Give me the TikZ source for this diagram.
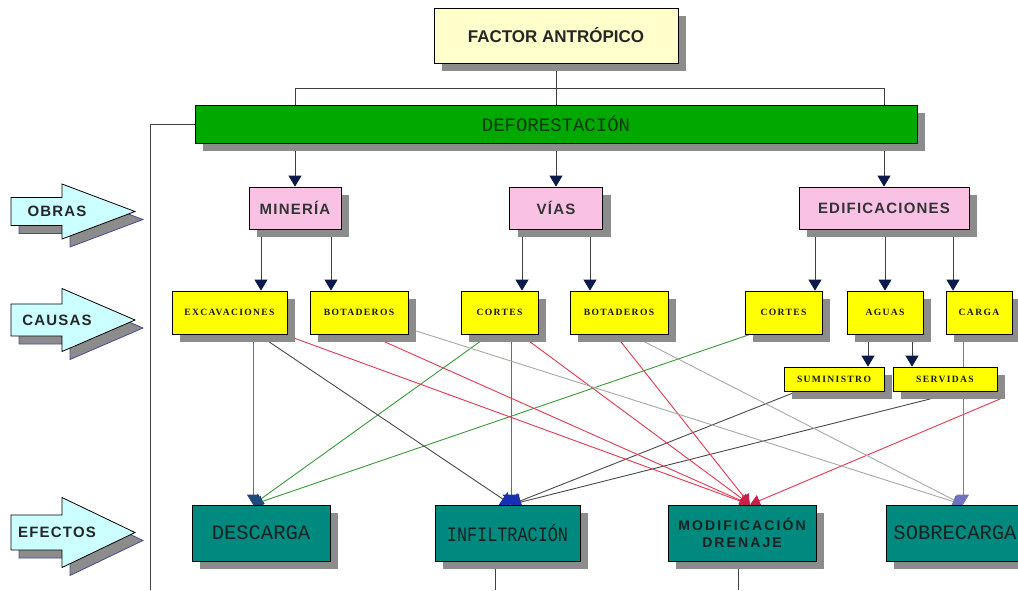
\documentclass[tikz,border=0pt]{standalone}
\usepackage{fontspec}
\setmainfont{Liberation Sans}
\newfontfamily\widesans{Liberation Sans}[LetterSpace=8]
\newfontfamily\modsans{Liberation Sans}[LetterSpace=15]
\newfontfamily\yelfont{Liberation Serif}[LetterSpace=14]
\newfontfamily\monof{Liberation Mono}
\usetikzlibrary{arrows.meta,shadows,calc}
\pgfdeclarelayer{bg}
\pgfsetlayers{bg,main}
\definecolor{shadowgray}{HTML}{8C8C8C}
\definecolor{shadowblue}{HTML}{4A4A90}
\definecolor{factorfill}{HTML}{FFFFCC}
\definecolor{defogreen}{HTML}{00A800}
\definecolor{defotext}{HTML}{043804}
\definecolor{pinkfill}{HTML}{F9C2E4}
\definecolor{yelfill}{HTML}{FFFF00}
\definecolor{tealfill}{HTML}{00897E}
\definecolor{tealtext}{HTML}{142220}
\definecolor{arrowcyan}{HTML}{CCFFFF}
\definecolor{navytip}{HTML}{0B1A4A}
\definecolor{lgreen}{HTML}{3A9A3A}
\definecolor{lred}{HTML}{E8384F}
\definecolor{ldark}{HTML}{4A4A4A}
\definecolor{lgray}{HTML}{A8A8A8}
\definecolor{lblue}{HTML}{4A68D0}
\definecolor{tipdesc}{HTML}{1F4A7A}
\definecolor{tipinf}{HTML}{1830B0}
\definecolor{tipmod}{HTML}{C8204A}
\definecolor{tipsob}{HTML}{7070C0}
\tikzset{
  box/.style={draw=black, line width=0.8pt, inner sep=0pt,
    drop shadow={shadow xshift=8pt, shadow yshift=-8pt, fill=shadowgray, opacity=1}},
  factorbox/.style={box, fill=factorfill, font=\bfseries\fontsize{17}{19}\selectfont, text=black!85},
  defobox/.style={box, fill=defogreen, font=\monof\fontsize{19}{21}\selectfont, text=defotext},
  obrabox/.style={box, fill=pinkfill, minimum height=42pt, font=\widesans\bfseries\fontsize{15}{17}\selectfont, text=black!80},
  causebox/.style={box, fill=yelfill, minimum height=43pt, font=\yelfont\bfseries\fontsize{9.6}{11}\selectfont, text=black!90},
  subbox/.style={causebox, minimum height=24pt},
  effbox/.style={box, fill=tealfill, minimum height=56pt, font=\monof\fontsize{20.5}{22}\selectfont, text=tealtext},
  sidetext/.style={font=\widesans\bfseries\fontsize{15}{17}\selectfont, text=black!85, inner sep=0pt},
  tree/.style={draw=black!75, line width=0.8pt},
  treearr/.style={tree, -{Triangle[width=13pt,length=11pt,color=navytip]}},
  link/.style={line width=0.9pt},
  toD/.style={link, -{Triangle[width=12pt,length=10pt,color=tipdesc]}},
  toI/.style={link, -{Triangle[width=17pt,length=10pt,color=tipinf]}},
  toM/.style={link, -{Triangle[width=12pt,length=10pt,color=tipmod]}},
  toS/.style={link, -{Triangle[width=12pt,length=10pt,color=tipsob]}},
}
\newcommand\sidearrow[5]{%
  \begin{scope}[shift={(8,8)}]
    \filldraw[fill=shadowgray, draw=shadowblue, line width=0.8pt]
      (11,#1-#2) -- (62,#1-#2) -- (62,#1-#3) -- (135,#1) -- (62,#1+#3) -- (62,#1+#2) -- (11,#1+#2) -- cycle;
  \end{scope}
  \filldraw[fill=arrowcyan, draw=black, line width=0.8pt]
    (11,#1-#2) -- (62,#1-#2) -- (62,#1-#3) -- (135,#1) -- (62,#1+#3) -- (62,#1+#2) -- (11,#1+#2) -- cycle;
  \node[sidetext] (#4) at (57,#1) {#5};
}
\begin{document}
\begin{tikzpicture}[x=1pt, y=-1pt]
\useasboundingbox (0,0) rectangle (1018,590);
\begin{pgfonlayer}{bg}
\fill[white] (0,0) rectangle (1018,590);
\end{pgfonlayer}

% side arrows
\sidearrow{211.5}{14}{27.5}{obras}{OBRAS}
\sidearrow{320}{16}{31.5}{causas}{CAUSAS}
\sidearrow{532.5}{17.5}{35}{efectos}{EFECTOS}

% top
\node[factorbox, minimum width=244pt, minimum height=55pt] (factor) at (556,35.5) {FACTOR ANTRÓPICO};
\node[defobox, minimum width=722pt, minimum height=38pt] (defo) at (556,124) {DEFORESTACIÓN};

% obras
\node[obrabox, minimum width=92pt] (mineria) at (295,208) {MINERÍA};
\node[obrabox, minimum width=93pt] (vias) at (556,208) {VÍAS};
\node[obrabox, minimum width=170pt] (edif) at (884,208) {EDIFICACIONES};

% causas
\node[causebox, minimum width=115pt] (excav) at (229.5,312.5) {EXCAVACIONES};
\node[causebox, minimum width=98pt] (bot1) at (359,312.5) {BOTADEROS};
\node[causebox, minimum width=77pt] (cortes1) at (499.5,312.5) {CORTES};
\node[causebox, minimum width=98pt] (bot2) at (619,312.5) {BOTADEROS};
\node[causebox, minimum width=77pt] (cortes2) at (783.5,312.5) {CORTES};
\node[causebox, minimum width=76pt] (aguas) at (885,312.5) {AGUAS};
\node[causebox, minimum width=66pt] (carga) at (979,312.5) {CARGA};
\node[subbox, minimum width=100pt] (sumin) at (834,379) {SUMINISTRO};
\node[subbox, minimum width=104pt] (serv) at (945,379) {SERVIDAS};

% efectos
\node[effbox, minimum width=138pt] (desc) at (261,533) {DESCARGA};
\node[effbox, minimum width=145pt] (infil) at (507.5,533) {\scalebox{0.82}[1]{INFILTRACIÓN}};
\node[effbox, minimum width=148pt, align=center, font=\modsans\bfseries\fontsize{14}{17}\selectfont] (modif) at (742,533) {MODIFICACIÓN\\DRENAJE};
\node[effbox, minimum width=138pt] (sobre) at (955,533) {SOBRECARGA};

% helper coordinates
\coordinate (h1) at (295,88);
\coordinate (h2) at (884,88);
\coordinate (leftbot) at (150,590);
\coordinate (infbot) at (495,590);
\coordinate (modbot) at (738,590);
\coordinate (xa) at (261,0);
\coordinate (xb) at (331,0);
\coordinate (xc) at (522,0);
\coordinate (xd) at (590,0);
\coordinate (xe) at (815,0);
\coordinate (xf) at (885,0);
\coordinate (xg) at (953,0);
\coordinate (xh) at (868,0);
\coordinate (xi) at (912,0);

\begin{pgfonlayer}{bg}
% tree lines
\draw[tree] (factor.south) -- (defo.north);
\draw[tree] (h1) -- (h2);
\draw[tree] (h1) -- (h1 |- defo.north);
\draw[tree] (h2) -- (h2 |- defo.north);
\draw[tree] (defo.west) -| (leftbot);
\draw[tree] (infil.south -| infbot) -- (infbot);
\draw[tree] (modif.south -| modbot) -- (modbot);

\draw[treearr] (defo.south -| mineria) -- (mineria.north);
\draw[treearr] (defo.south -| vias) -- (vias.north);
\draw[treearr] (defo.south -| edif) -- (edif.north);

\draw[treearr] (mineria.south -| xa) -- (excav.north -| xa);
\draw[treearr] (mineria.south -| xb) -- (bot1.north -| xb);
\draw[treearr] (vias.south -| xc) -- (cortes1.north -| xc);
\draw[treearr] (vias.south -| xd) -- (bot2.north -| xd);
\draw[treearr] (edif.south -| xe) -- (cortes2.north -| xe);
\draw[treearr] (edif.south -| xf) -- (aguas.north -| xf);
\draw[treearr] (edif.south -| xg) -- (carga.north -| xg);
\draw[treearr] (aguas.south -| xh) -- (sumin.north -| xh);
\draw[treearr] (aguas.south -| xi) -- (serv.north -| xi);

% causes -> effects
\draw[toD, lgreen] ([xshift=23.5pt]excav.south) -- ([xshift=-8pt]desc.north);
\draw[toD, lgreen] ([xshift=-9.5pt]cortes1.south) -- ([xshift=-8pt]desc.north);
\draw[toD, lgreen] ([xshift=-33.5pt]cortes2.south) -- ([xshift=-8pt]desc.north);

\draw[toI, ldark] ([xshift=28.5pt]excav.south) -- ([xshift=3.5pt]infil.north);
\draw[toI, lblue] ([xshift=3.5pt]cortes1.south -| infil.north) -- ([xshift=3.5pt]infil.north);
\draw[toI, ldark] ([xshift=-37pt]sumin.south) -- ([xshift=3.5pt]infil.north);
\draw[toI, ldark] ([xshift=15pt]serv.south) -- ([xshift=3.5pt]infil.north);

\draw[toM, lred] ([xshift=54.5pt]excav.south) -- ([xshift=8pt]modif.north);
\draw[toM, lred] ([xshift=9pt]bot1.south) -- ([xshift=8pt]modif.north);
\draw[toM, lred] ([xshift=20.5pt]cortes1.south) -- ([xshift=8pt]modif.north);
\draw[toM, lred] ([xshift=-4pt]bot2.south) -- ([xshift=8pt]modif.north);
\draw[toM, lred] ([xshift=4pt,yshift=-7pt]serv.south east) -- ([xshift=8pt]modif.north);

\draw[toS, lgray] ([yshift=-16pt]bot1.east) -- ([xshift=8pt]sobre.north);
\draw[toS, lgray] ([xshift=11pt]bot2.south) -- ([xshift=8pt]sobre.north);
\draw[toS, black!50] ([xshift=-16pt]carga.south) -- ([xshift=8pt]sobre.north);
\end{pgfonlayer}
\end{tikzpicture}
\end{document}
